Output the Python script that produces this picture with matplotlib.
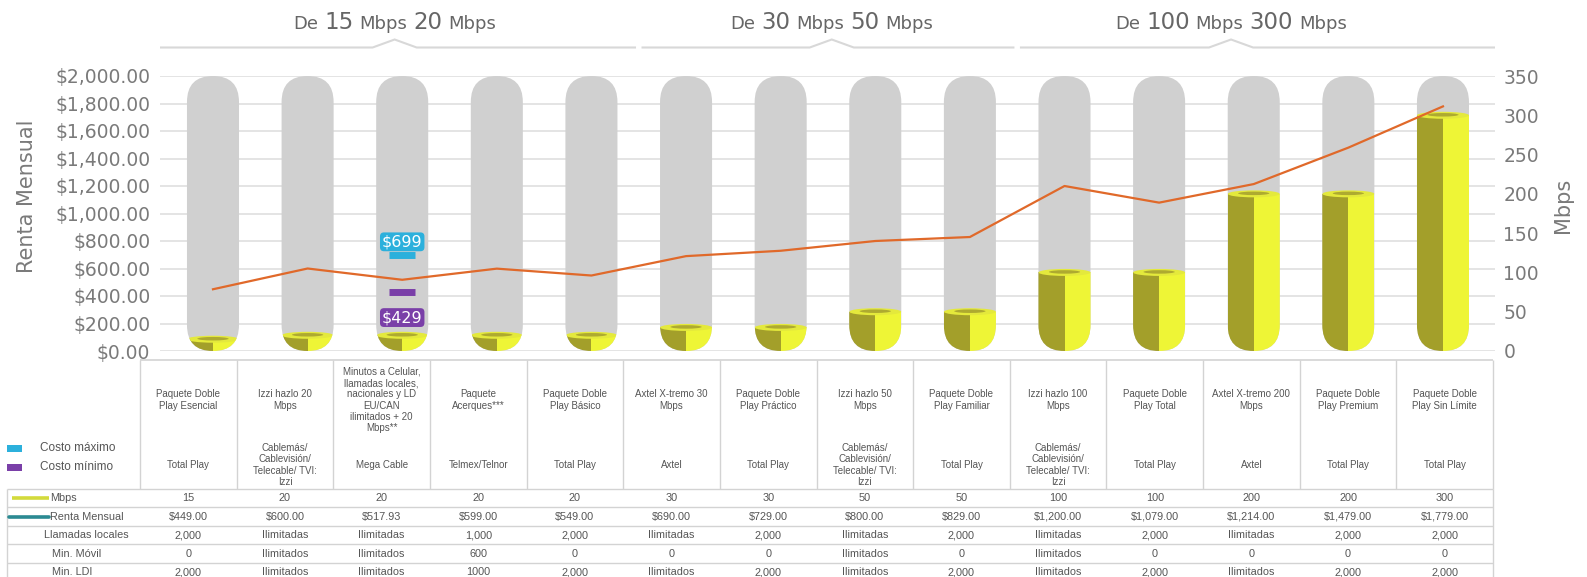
import numpy as np
import matplotlib
matplotlib.use("Agg")
import matplotlib.pyplot as plt
from matplotlib.patches import FancyBboxPatch, Ellipse, Rectangle
from matplotlib.ticker import MultipleLocator, FuncFormatter

# ---- data ----
planes = [
    "Paquete Doble\nPlay Esencial",
    "Izzi hazlo 20\nMbps",
    "Minutos a Celular,\nllamadas locales,\nnacionales y LD\nEU/CAN\nilimitados + 20\nMbps**",
    "Paquete\nAcerques***",
    "Paquete Doble\nPlay Básico",
    "Axtel X-tremo 30\nMbps",
    "Paquete Doble\nPlay Práctico",
    "Izzi hazlo 50\nMbps",
    "Paquete Doble\nPlay Familiar",
    "Izzi hazlo 100\nMbps",
    "Paquete Doble\nPlay Total",
    "Axtel X-tremo 200\nMbps",
    "Paquete Doble\nPlay Premium",
    "Paquete Doble\nPlay Sin Límite",
]
izzi = "Cablemás/\nCablevisión/\nTelecable/ TVI:\nIzzi"
proveedores = ["Total Play", izzi, "Mega Cable", "Telmex/Telnor", "Total Play",
               "Axtel", "Total Play", izzi, "Total Play", izzi, "Total Play",
               "Axtel", "Total Play", "Total Play"]
mbps = [15, 20, 20, 20, 20, 30, 30, 50, 50, 100, 100, 200, 200, 300]
renta = [449.00, 600.00, 517.93, 599.00, 549.00, 690.00, 729.00, 800.00,
         829.00, 1200.00, 1079.00, 1214.00, 1479.00, 1779.00]
llamadas = ["2,000", "Ilimitadas", "Ilimitadas", "1,000", "2,000", "Ilimitadas",
            "2,000", "Ilimitadas", "2,000", "Ilimitadas", "2,000", "Ilimitadas",
            "2,000", "2,000"]
min_movil = ["0", "Ilimitados", "Ilimitados", "600", "0", "0", "0", "Ilimitados",
             "0", "Ilimitados", "0", "0", "0", "0"]
min_ldi = ["2,000", "Ilimitados", "Ilimitados", "1000", "2,000", "Ilimitados",
           "2,000", "Ilimitados", "2,000", "Ilimitados", "2,000", "Ilimitados",
           "2,000", "2,000"]
grupos = [("15", "20", 0, 4), ("30", "50", 5, 8), ("100", "300", 9, 13)]
costo_max = 699
costo_min = 429
idx_costos = 2

# ---- style ----
GRAY_TXT = "#7a7a7a"
TAB_TXT = "#555555"
CAPSULE = "#d0d0d0"
Y_LIGHT = "#eef536"
Y_DARK = "#a39f2a"
RIM_LIGHT = "#e4e93c"
RIM_DARK = "#aeaa30"
LINE = "#e0692a"
CYAN = "#2cb0dc"
PURPLE = "#7a3fa8"
GRID = "#e2e2e2"
TAB_LINE = "#d3d3d3"

W, H = 1587, 577
fig = plt.figure(figsize=(W / 100, H / 100), dpi=100)

left, right, top, bottom = 160, 1495, 76, 351
ax = fig.add_axes([left / W, 1 - bottom / H, (right - left) / W, (bottom - top) / H])
axl = ax.twinx()

x = np.arange(len(mbps))
xlim = (-0.56, 13.55)
for a in (ax, axl):
    a.set_xlim(*xlim)
    a.set_xticks([])
    for s in a.spines.values():
        s.set_visible(False)

ax.set_ylim(0, 350)
axl.set_ylim(0, 2000)

# right axis (Mbps) - bars live here
ax.yaxis.tick_right()
ax.yaxis.set_label_position("right")
ax.yaxis.set_major_locator(MultipleLocator(50))
ax.yaxis.set_minor_locator(MultipleLocator(35))
ax.yaxis.remove_overlapping_locs = False
ax.grid(which="minor", axis="y", color=GRID, lw=1.3)
ax.set_axisbelow(True)
ax.tick_params(axis="y", which="both", length=0)
ax.tick_params(axis="y", which="major", pad=6, labelsize=13.5, labelcolor=GRAY_TXT)
ax.set_ylabel("Mbps", fontsize=15, color=GRAY_TXT)
ax.yaxis.label.set_va("center")
ax.yaxis.set_label_coords((1563 - left) / (right - left), (bottom - 205) / (bottom - top))

# left axis (Renta Mensual) - line lives here
axl.yaxis.tick_left()
axl.yaxis.set_label_position("left")
axl.yaxis.set_major_locator(MultipleLocator(200))
axl.yaxis.set_major_formatter(FuncFormatter(lambda v, p: f"${v:,.2f}"))
axl.tick_params(axis="y", length=0, pad=7, labelsize=13.5, labelcolor=GRAY_TXT)
axl.set_ylabel("Renta Mensual", fontsize=15, color=GRAY_TXT)
axl.yaxis.label.set_va("center")
axl.yaxis.set_label_coords((27 - left) / (right - left), (bottom - 196) / (bottom - top))

# capsules
w = 0.55
px_y = 350 / (bottom - top)                       # Mbps per pixel
px_x = (xlim[1] - xlim[0]) / (right - left)       # x units per pixel
asp = px_y / px_x
capsulas = []
for xi in x:
    c = FancyBboxPatch((xi - w / 2, 0), w, 350,
                       boxstyle=f"round,pad=0,rounding_size={w / 2}",
                       mutation_aspect=asp, fc=CAPSULE, ec="none", zorder=1)
    ax.add_patch(c)
    capsulas.append(c)

b_dark = ax.bar(x - w / 4, mbps, w / 2, color=Y_DARK, zorder=2)
b_light = ax.bar(x + w / 4, mbps, w / 2, color=Y_LIGHT, zorder=2)
for i, c in enumerate(capsulas):
    b_dark[i].set_clip_path(c)
    b_light[i].set_clip_path(c)
    e1 = Ellipse((x[i], mbps[i]), w, 7 * px_y, fc=RIM_LIGHT, ec="none", zorder=3)
    e2 = Ellipse((x[i], mbps[i] + 0.5 * px_y), w * 0.6, 3.5 * px_y, fc=RIM_DARK,
                 ec="none", zorder=4)
    for e in (e1, e2):
        ax.add_patch(e)
        e.set_clip_path(c)

# line
axl.plot(x, renta, color=LINE, lw=1.6, zorder=5)

# max / min markers
xc = x[idx_costos]
axl.hlines([costo_max], xc - 0.1375, xc + 0.1375, colors=CYAN, lw=5, zorder=6)
axl.hlines([costo_min], xc - 0.1375, xc + 0.1375, colors=PURPLE, lw=5, zorder=6)
axl.annotate(f"${costo_max}", xy=(xc, costo_max), xytext=(0, 4), textcoords="offset points",
             ha="center", va="bottom", color="white", fontsize=11.5, zorder=7,
             bbox=dict(boxstyle="round,pad=0.12,rounding_size=0.25", fc=CYAN, ec="none"))
axl.annotate(f"${costo_min}", xy=(xc, costo_min), xytext=(0, -13), textcoords="offset points",
             ha="center", va="top", color="white", fontsize=11.5, zorder=7,
             bbox=dict(boxstyle="round,pad=0.12,rounding_size=0.25", fc=PURPLE, ec="none"))

# ---- group headers ----
hdr = fig.add_axes([left / W, 1 - 60 / H, (right - left) / W, 60 / H])
hdr.set_xlim(*xlim)
hdr.set_ylim(60, 0)
hdr.axis("off")
hdr_centers = [1.92, 6.54, 10.76]
gap = 0.04
renderer = fig.canvas.get_renderer()
for k, (a0, a1, i0, i1) in enumerate(grupos):
    xa = xlim[0] if k == 0 else i0 - 0.5 + gap
    xb = xlim[1] if k == len(grupos) - 1 else i1 + 0.5 - gap
    cc = hdr_centers[k]
    hw = 0.233
    hdr.plot([xa, cc - hw, cc, cc + hw, xb], [47.5, 47.5, 39.5, 47.5, 47.5],
             color="#d8d8d8", lw=1.5, solid_joinstyle="miter")
    partes = [("De", 13), (a0, 16.5), ("Mbps", 13), (a1, 16.5), ("Mbps", 13)]
    txts = [fig.text(0, 1 - 29 / H, s, fontsize=fs, color="#666666", va="baseline")
            for s, fs in partes]
    widths = [t.get_window_extent(renderer).width for t in txts]
    space = 6
    total = sum(widths) + space * (len(widths) - 1)
    cpx = left + (cc - xlim[0]) / (xlim[1] - xlim[0]) * (right - left)
    xp = cpx - total / 2
    for t, wd in zip(txts, widths):
        t.set_x(xp / W)
        xp += wd + space

# ---- table ----
tab = fig.add_axes([0, 0, 1, (H - 350) / H])
col_w = (1493 - 140) / 14
def cx(px):
    return (px - 140) / col_w
tab.set_xlim(cx(0), cx(W))
tab.set_ylim(H, 350)
tab.axis("off")
ncol = len(planes)
TF = "Liberation Sans"

tab.hlines([360], 0, ncol, colors=TAB_LINE, lw=1.2)
tab.vlines(np.arange(ncol + 1), 360, 489, colors=TAB_LINE, lw=1)
row_y = 489 + 18.5 * np.arange(6)
tab.hlines(row_y, cx(7), ncol, colors=TAB_LINE, lw=1)
tab.vlines([cx(7), ncol], 489, 590, colors=TAB_LINE, lw=1)

for i in range(ncol):
    tab.text(i + 0.5, 400, planes[i], ha="center", va="center", fontsize=7,
             linespacing=1.15, color=TAB_TXT, family=TF)
    tab.text(i + 0.5, 465, proveedores[i], ha="center", va="center", fontsize=7,
             linespacing=1.15, color=TAB_TXT, family=TF)

filas = [
    ("Mbps", [str(v) for v in mbps], 50),
    ("Renta Mensual", [f"${v:,.2f}" for v in renta], 50),
    ("Llamadas locales", llamadas, 44),
    ("Min. Móvil", min_movil, 52),
    ("Min. LDI", min_ldi, 52),
]
for r, (lab, vals, lx) in enumerate(filas):
    yc = row_y[r] + 9.25
    tab.text(cx(lx), yc, lab, ha="left", va="center", fontsize=7.8, color=TAB_TXT, family=TF)
    for i, v in enumerate(vals):
        tab.text(i + 0.5, yc, v, ha="center", va="center", fontsize=7.8, color=TAB_TXT, family=TF)

tab.plot([cx(12), cx(49)], [row_y[0] + 9.25] * 2, color="#d3da3c", lw=2.6, solid_capstyle="butt")
tab.plot([cx(9), cx(49)], [row_y[1] + 9.25] * 2, color="#2b8a92", lw=2.6, solid_capstyle="round")

# legend for max / min
for yy, col, lab in [(445, CYAN, "Costo máximo"), (464, PURPLE, "Costo mínimo")]:
    tab.add_patch(Rectangle((cx(7), yy), cx(22) - cx(7), 7, fc=col, ec="none"))
    tab.text(cx(40), yy + 3.5, lab, ha="left", va="center", fontsize=8.5, color=TAB_TXT, family=TF)

fig.savefig("out.png", dpi=100)
